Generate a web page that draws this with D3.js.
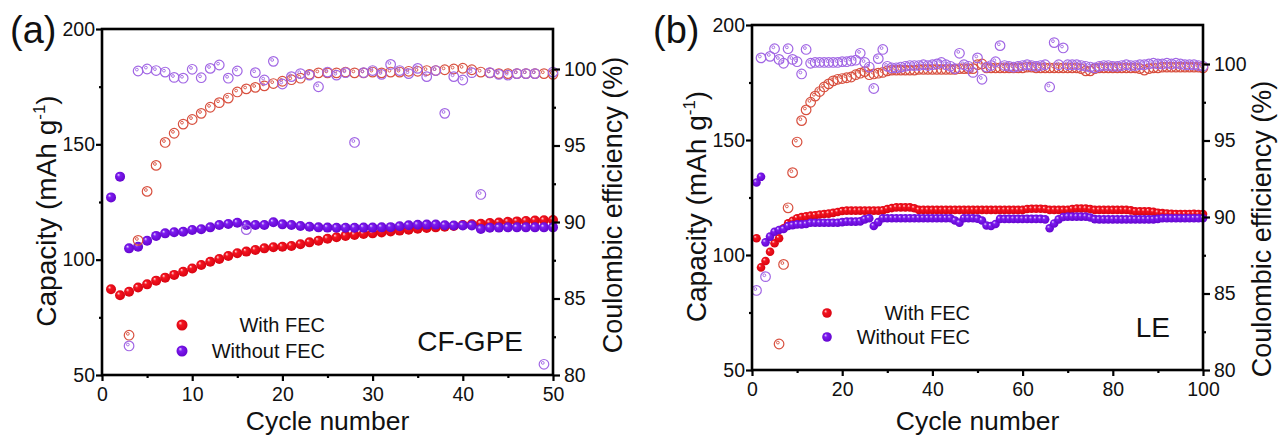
<!DOCTYPE html>
<html><head><meta charset="utf-8">
<script src="https://cdn.jsdelivr.net/npm/d3@7/dist/d3.min.js"></script>
<style>
html,body{margin:0;padding:0;background:#fff;}
svg{display:block;font-family:"Liberation Sans",Arial,sans-serif;}
</style></head><body>
<svg id="chart" width="1280" height="436"></svg>
<script>
// ---------------- DATA ----------------
// index i -> cycle i+1 ; null = no point
const capWithA = [87.2,84.6,86.1,87.9,89.3,90.9,92.2,93.4,94.8,96.2,97.7,99.1,100.3,101.6,102.8,103.5,104.2,104.9,105.4,105.6,105.9,106.7,107.5,108.2,109.1,109.7,110.3,110.7,111.1,111.4,111.8,112.2,112.6,113.0,113.4,113.7,114.0,114.3,114.6,115.0,115.3,115.6,115.9,116.1,116.4,116.6,116.8,117.0,117.1,117.2];
const capWithoutA = [127,136,104.9,105.6,108.2,110.3,111.4,111.9,112.1,112.9,113.2,114.0,115.0,115.5,116.0,115.0,115.0,115.0,116.2,115.3,115.0,114.6,114.3,114.0,113.9,113.8,113.8,113.8,113.9,113.9,114.0,114.1,114.5,114.9,115.1,115.2,115.2,114.9,114.8,114.8,114.8,113.3,113.8,113.9,114.0,114.0,114.0,114.0,114.0,114.0];
const ceWithA = [null,null,82.6,88.8,92.0,93.7,95.2,95.8,96.4,96.7,97.1,97.5,97.8,98.1,98.5,98.7,98.8,98.9,99.05,99.2,99.3,99.4,99.65,99.75,99.75,99.75,99.8,99.75,99.75,99.8,99.75,99.8,99.8,99.85,99.85,99.9,99.9,99.95,100.0,100.05,99.95,99.8,99.75,99.7,99.7,99.7,99.7,99.7,99.7,99.65];
const ceWithoutA = [null,null,81.9,99.87,100.0,99.9,99.8,99.45,99.4,99.98,99.43,100.04,100.26,99.4,99.87,89.5,99.76,99.28,100.5,99.02,99.5,99.7,99.6,98.84,99.8,99.6,99.76,95.2,99.76,99.9,99.65,100.3,99.9,99.7,100.04,99.5,99.9,97.1,99.5,99.28,99.76,91.8,99.76,99.65,99.6,99.7,99.7,99.7,80.7,99.8];

const capWithB = [107.3,94.6,97.4,101.4,105.1,107.3,111.6,113.8,114.9,116.0,116.5,116.8,117.1,117.3,117.6,117.8,118.0,118.3,118.7,119.1,119.3,119.3,119.3,119.3,119.3,119.3,119.3,119.3,119.4,120.0,120.4,120.7,120.7,120.7,120.7,120.3,119.6,119.6,119.6,119.6,119.6,119.6,119.6,119.6,119.6,119.6,119.6,119.6,119.6,119.6,119.6,119.6,119.6,119.6,119.6,119.6,119.6,119.6,119.6,119.6,120.0,120.1,120.1,120.1,120.0,119.6,119.6,119.6,119.6,119.6,120.0,120.2,120.2,120.2,120.0,119.6,119.6,119.6,119.6,119.6,119.6,119.6,119.6,119.4,119.0,119.0,119.0,119.0,118.8,118.4,118.2,118.0,117.9,117.8,117.8,117.8,117.8,117.9,117.8,117.8];
const capWithoutB = [131.5,134.0,105.5,108.0,110.1,110.9,111.3,112.6,113.0,113.3,113.3,113.5,114.0,114.0,114.0,114.0,114.0,114.0,114.0,114.3,114.5,114.5,114.5,114.6,115.5,116.0,112.6,114.3,116.0,116.0,116.0,116.0,116.0,116.0,116.0,116.0,116.0,116.0,116.0,116.0,116.0,116.0,116.0,116.0,115.0,114.0,116.0,116.0,116.0,115.8,115.0,112.8,112.6,113.5,115.7,115.7,115.7,115.7,115.7,115.7,115.7,115.7,115.7,115.7,115.5,111.6,113.7,115.5,116.5,116.7,116.7,116.7,116.7,116.7,116.3,115.6,115.5,115.5,115.5,115.5,115.5,115.5,115.5,115.5,115.5,115.5,115.5,115.5,115.5,115.7,116.0,116.0,116.0,116.0,116.0,116.0,116.0,116.0,116.0,116.0];
const ceWithB = [null,null,null,null,null,81.7,86.9,90.6,92.9,94.9,96.3,97.0,97.5,97.9,98.2,98.5,98.7,98.9,99.0,99.05,99.1,99.15,99.3,99.4,99.5,99.3,99.35,99.4,99.45,99.55,99.6,99.6,99.6,99.6,99.6,99.6,99.65,99.65,99.65,99.65,99.65,99.65,99.65,99.65,99.65,99.7,99.7,99.7,99.7,99.95,100.0,99.75,99.75,99.75,99.75,99.75,99.75,99.75,99.75,99.75,99.8,99.8,99.75,99.75,99.75,99.75,99.75,99.75,99.75,99.75,99.75,99.75,99.7,99.55,99.55,99.7,99.75,99.75,99.75,99.75,99.75,99.75,99.75,99.75,99.75,99.7,99.6,99.7,99.75,99.75,99.8,99.8,99.8,99.8,99.8,99.8,99.8,99.8,99.8,99.75];
const ceWithoutB = [85.2,100.4,86.1,100.5,101.0,100.3,100.05,101.0,100.3,100.15,99.35,100.95,100.05,100.1,100.1,100.1,100.1,100.1,100.1,100.15,100.15,100.2,100.25,100.7,100.1,99.8,98.4,100.35,100.95,99.85,99.75,99.75,99.8,99.85,99.9,99.9,99.9,99.95,99.9,99.95,100.0,100.1,99.95,99.85,99.7,100.7,99.95,99.85,99.45,100.4,99.0,99.8,99.9,100.15,101.2,99.9,99.85,99.8,99.85,99.9,99.95,99.9,99.85,99.9,99.95,98.5,101.4,99.95,101.05,99.95,99.95,99.95,99.9,99.85,99.8,99.75,99.85,99.9,99.9,99.85,99.85,99.9,99.95,99.9,99.9,99.95,99.95,100.0,100.05,100.0,100.0,100.05,100.0,100.05,100.0,99.95,99.95,99.95,99.9,99.85];

const capTicks = [50,100,150,200];
const capMinor = [75,125,175];
const ceTicks = [80,85,90,95,100];
const ceMinor = [82.5,87.5,92.5,97.5];
const xTicksA = [0,10,20,30,40,50];
const xMinorA = [5,15,25,35,45];
const xTicksB = [0,20,40,60,80,100];
const xMinorB = [10,30,50,70,90];
const legendLabels = ["With FEC","Without FEC"];
const panelLetters = ["(a)","(b)"];
const panelNames = ["CF-GPE","LE"];
const xTitle = "Cycle number";
const ceTitle = "Coulombic efficiency (%)";

// ---------------- DRAW ----------------
const svg = d3.select("#chart");
const defs = svg.append("defs");
function sphereGrad(id, hi, mid, dark){
  const g = defs.append("radialGradient").attr("id", id)
    .attr("cx","0.5").attr("cy","0.5").attr("r","0.6").attr("fx","0.32").attr("fy","0.3");
  g.append("stop").attr("offset","0").attr("stop-color",hi);
  g.append("stop").attr("offset","0.28").attr("stop-color",mid);
  g.append("stop").attr("offset","1").attr("stop-color",dark);
}
sphereGrad("gRed","#ffe0e0","#f41420","#d2000e");
sphereGrad("gPur","#eadcff","#7d1cf0","#5f00c8");

const RED_OPEN = "#d8503f", PUR_OPEN = "#a166e4";
const FONT = '"Liberation Sans",Arial,sans-serif';

const panels = [
  {x0:102,x1:553,yTop:29,yBot:375,y100:69,xMax:50,xT:xTicksA,xM:xMinorA,
   cw:capWithA,cwo:capWithoutA,ew:ceWithA,ewo:ceWithoutA,rf:5,ro:4.8,
   letter:[10,43],capTitleX:56,ceTitleX:622,ceTitleY:205,
   leg:{mx:182,y1:325,y2:351,tx:325},name:[523,351],nameSize:28},
  {x0:752,x1:1203,yTop:25,yBot:370,y100:64,xMax:100,xT:xTicksB,xM:xMinorB,
   cw:capWithB,cwo:capWithoutB,ew:ceWithB,ewo:ceWithoutB,rf:4.3,ro:4.8,
   letter:[653,43],capTitleX:706,ceTitleX:1271,ceTitleY:229,
   leg:{mx:827,y1:313,y2:337,tx:970},name:[1170,337],nameSize:28}
];

panels.forEach((p,pi)=>{
  const g = svg.append("g");
  const x = d3.scaleLinear().domain([0,p.xMax]).range([p.x0,p.x1]);
  const yC = d3.scaleLinear().domain([50,200]).range([p.yBot,p.yTop]);
  const yE = d3.scaleLinear().domain([80,100]).range([p.yBot,p.y100]);

  const toPts = arr => arr.map((v,i)=>({c:i+1,v})).filter(d=>d.v!=null);

  const drawFilled = (arr, grad) => {
    g.append("g").selectAll("circle").data(toPts(arr)).join("circle")
      .attr("cx",d=>x(d.c)).attr("cy",d=>yC(d.v)).attr("r",p.rf)
      .attr("fill",`url(#${grad})`);
  };
  const drawOpen = (arr, col) => {
    const s = g.append("g").selectAll("g").data(toPts(arr)).join("g")
      .attr("transform",d=>`translate(${x(d.c)},${yE(d.v)})`);
    s.append("circle").attr("r",p.ro).attr("fill","none").attr("stroke",col).attr("stroke-width",1.2);
    s.append("circle").attr("cx",-1.2).attr("cy",-1.4).attr("r",1.4).attr("fill","none").attr("stroke",col).attr("stroke-width",0.9);
  };
  drawFilled(p.cw,"gRed");
  drawFilled(p.cwo,"gPur");
  drawOpen(p.ew,RED_OPEN);
  drawOpen(p.ewo,PUR_OPEN);

  // axes
  const styleAxis = (sel, fs) => {
    sel.select(".domain").remove();
    sel.selectAll("line").attr("stroke","#000").attr("stroke-width",2.2);
    sel.selectAll("text").attr("font-size",fs).attr("fill","#111").attr("font-family",FONT);
  };
  const bx = g.append("g").attr("transform",`translate(0,${p.yBot})`)
    .call(d3.axisBottom(x).tickValues(p.xT).tickSize(6).tickPadding(6).tickFormat(d3.format("d")));
  styleAxis(bx,19.5);
  const bxm = g.append("g").attr("transform",`translate(0,${p.yBot})`)
    .call(d3.axisBottom(x).tickValues(p.xM).tickSize(3).tickFormat(""));
  styleAxis(bxm,19.5);
  const ly = g.append("g").attr("transform",`translate(${p.x0},0)`)
    .call(d3.axisLeft(yC).tickValues(capTicks).tickSize(6).tickPadding(1).tickFormat(d3.format("d")));
  styleAxis(ly,19.5);
  const lym = g.append("g").attr("transform",`translate(${p.x0},0)`)
    .call(d3.axisLeft(yC).tickValues(capMinor).tickSize(3).tickFormat(""));
  styleAxis(lym,19.5);
  const ry = g.append("g").attr("transform",`translate(${p.x1},0)`)
    .call(d3.axisRight(yE).tickValues(ceTicks).tickSize(7).tickPadding(4).tickFormat(d3.format("d")));
  styleAxis(ry,19.5);
  const rym = g.append("g").attr("transform",`translate(${p.x1},0)`)
    .call(d3.axisRight(yE).tickValues(ceMinor).tickSize(3).tickFormat(""));
  styleAxis(rym,19.5);

  // frame
  g.append("rect").attr("x",p.x0).attr("y",p.yTop).attr("width",p.x1-p.x0).attr("height",p.yBot-p.yTop)
    .attr("fill","none").attr("stroke","#000").attr("stroke-width",2.6);

  // titles
  g.append("text").attr("x",(p.x0+p.x1)/2).attr("y",430).attr("text-anchor","middle")
    .attr("font-size",26.5).attr("fill","#111").text(xTitle);
  const ct = g.append("text").attr("transform",`translate(${p.capTitleX},${(p.yTop+p.yBot)/2+9}) rotate(-90)`)
    .attr("text-anchor","middle").attr("font-size",28).attr("fill","#111");
  ct.append("tspan").text("Capacity (mAh g");
  ct.append("tspan").attr("font-size",17).attr("dy",-11).text("-1");
  ct.append("tspan").attr("dy",11).text(")");
  g.append("text").attr("transform",`translate(${p.ceTitleX},${p.ceTitleY}) rotate(-90)`)
    .attr("text-anchor","middle").attr("font-size",27).attr("fill","#111").text(ceTitle);

  g.append("text").attr("x",p.letter[0]).attr("y",p.letter[1]).attr("font-size",38).attr("fill","#111").text(panelLetters[pi]);
  g.append("text").attr("x",p.name[0]).attr("y",p.name[1]).attr("text-anchor","end")
    .attr("font-size",p.nameSize).attr("fill","#111").text(panelNames[pi]);

  // legend
  [["gRed",p.leg.y1],["gPur",p.leg.y2]].forEach(([gr,yy],k)=>{
    g.append("circle").attr("cx",p.leg.mx).attr("cy",yy).attr("r",p.rf+0.5).attr("fill",`url(#${gr})`);
    g.append("text").attr("x",p.leg.tx).attr("y",yy+7).attr("text-anchor","end")
      .attr("font-size",20).attr("fill","#111").text(legendLabels[k]);
  });
});
</script>
</body></html>
